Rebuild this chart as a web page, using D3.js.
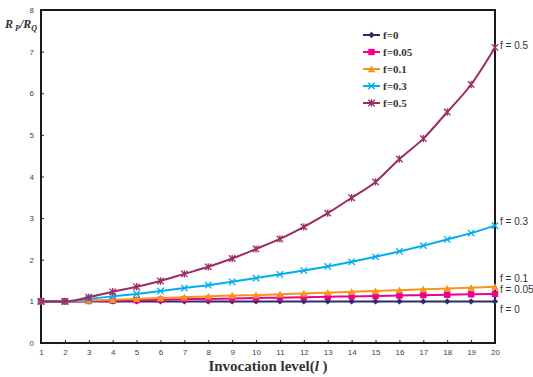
<!DOCTYPE html>
<html>
<head>
<meta charset="utf-8">
<script src="https://cdn.jsdelivr.net/npm/d3@7"></script>
<style>
  body { margin: 0; background: #fff; }
  svg { display: block; }
</style>
</head>
<body>
<svg id="chart"></svg>
<script>
// chart data
const levels = [1,2,3,4,5,6,7,8,9,10,11,12,13,14,15,16,17,18,19,20];
const yTicks = [0,1,2,3,4,5,6,7,8];
const f0   = [1,1,1,1,1,1,1,1,1,1,1,1,1,1,1,1,1,1,1,1];
const f005 = [1,1,1.01,1.02,1.03,1.04,1.05,1.06,1.07,1.08,1.09,1.10,1.11,1.12,1.13,1.14,1.15,1.16,1.17,1.18];
const f01  = [1,1,1.02,1.04,1.06,1.08,1.10,1.12,1.14,1.15,1.17,1.19,1.21,1.23,1.25,1.27,1.29,1.31,1.33,1.35];
const f03  = [1,1,1.06,1.12,1.18,1.25,1.32,1.39,1.47,1.56,1.65,1.74,1.84,1.95,2.07,2.20,2.34,2.49,2.64,2.82];
const f05  = [1,1,1.10,1.23,1.35,1.49,1.66,1.83,2.03,2.26,2.50,2.79,3.12,3.49,3.87,4.42,4.91,5.55,6.21,7.10];

const series = [
  { name: "f=0",    end: "f = 0",    values: f0,   color: "#2e2d6b", marker: "diamond" },
  { name: "f=0.05", end: "f = 0.05", values: f005, color: "#ec008c", marker: "square" },
  { name: "f=0.1",  end: "f = 0.1",  values: f01,  color: "#f7941d", marker: "triangle" },
  { name: "f=0.3",  end: "f = 0.3",  values: f03,  color: "#00aeef", marker: "cross" },
  { name: "f=0.5",  end: "f = 0.5",  values: f05,  color: "#9b2d63", marker: "star" }
];

// dimensions
const width = 533, height = 377;
const marginTop = 10, marginRight = 38, marginBottom = 34, marginLeft = 41;

const x = d3.scaleLinear()
    .domain([1, 20])
    .range([marginLeft, width - marginRight]);
const y = d3.scaleLinear()
    .domain([0, 8])
    .range([height - marginBottom, marginTop]);

const svg = d3.select("#chart")
    .attr("width", width)
    .attr("height", height);

// x-axis (ticks pointing inside)
const xAxis = svg.append("g")
    .attr("transform", `translate(0,${height - marginBottom})`)
    .call(d3.axisBottom(x).tickValues(levels).tickSizeInner(-3).tickSizeOuter(0).tickPadding(6));
xAxis.select(".domain").remove();
xAxis.selectAll("line").attr("stroke", "#222");
xAxis.selectAll("text").attr("font-family", "Liberation Sans, Arial, sans-serif").attr("font-size", 8).attr("fill", "#444");

// y-axis
const yAxis = svg.append("g")
    .attr("transform", `translate(${marginLeft},0)`)
    .call(d3.axisLeft(y).tickValues(yTicks).tickSizeInner(-3).tickSizeOuter(0).tickPadding(7));
yAxis.select(".domain").remove();
yAxis.selectAll("line").attr("stroke", "#222");
yAxis.selectAll("text").attr("font-family", "Liberation Sans, Arial, sans-serif").attr("font-size", 8).attr("fill", "#444");

// frame
svg.append("rect")
    .attr("x", marginLeft)
    .attr("y", marginTop)
    .attr("width", width - marginLeft - marginRight)
    .attr("height", height - marginTop - marginBottom)
    .attr("fill", "none")
    .attr("stroke", "#1a1a1a")
    .attr("stroke-width", 2);

function drawMarker(g, type, color) {
  const s = 3.2;
  if (type === "diamond") {
    g.append("path").attr("d", `M0,${-s}L${s},0L0,${s}L${-s},0Z`).attr("fill", color);
  } else if (type === "square") {
    g.append("rect").attr("x", -s).attr("y", -s).attr("width", 2*s).attr("height", 2*s).attr("fill", color);
  } else if (type === "triangle") {
    g.append("path").attr("d", `M0,${-s-0.5}L${s+0.5},${s}L${-s-0.5},${s}Z`).attr("fill", color);
  } else if (type === "cross") {
    g.append("path").attr("d", `M${-s},${-s}L${s},${s}M${-s},${s}L${s},${-s}`).attr("stroke", color).attr("stroke-width", 1.3);
  } else {
    g.append("path").attr("d", `M${-s},${-s}L${s},${s}M${-s},${s}L${s},${-s}M0,${-s-0.5}L0,${s+0.5}`).attr("stroke", color).attr("stroke-width", 1.3);
  }
}

const line = d3.line()
    .x((d, i) => x(levels[i]))
    .y(d => y(d))
    .curve(d3.curveMonotoneX);

// lines and markers
series.forEach(s => {
  svg.append("path")
      .datum(s.values)
      .attr("fill", "none")
      .attr("stroke", s.color)
      .attr("stroke-width", 2)
      .attr("d", line);
  svg.append("g")
      .selectAll("g")
      .data(s.values)
      .join("g")
      .attr("transform", (d, i) => `translate(${x(levels[i])},${y(d)})`)
      .each(function() { drawMarker(d3.select(this), s.marker, s.color); });
});

// end labels
const endOffsets = { "f = 0": 8, "f = 0.05": -4, "f = 0.1": -8, "f = 0.3": -4, "f = 0.5": -2 };
series.forEach(s => {
  svg.append("text")
      .attr("x", x(20) + 5)
      .attr("y", y(s.values[s.values.length - 1]) + endOffsets[s.end])
      .attr("dy", "0.35em")
      .attr("font-family", "Liberation Sans, Arial, sans-serif")
      .attr("font-size", 10)
      .attr("fill", "#333")
      .text(s.end);
});

// legend
const legend = svg.append("g").attr("transform", "translate(363,35)");
series.forEach((s, i) => {
  const row = legend.append("g").attr("transform", `translate(0,${i * 17})`);
  row.append("line").attr("x1", 0).attr("x2", 17).attr("stroke", s.color).attr("stroke-width", 2);
  drawMarker(row.append("g").attr("transform", "translate(8.5,0)"), s.marker, s.color);
  row.append("text")
      .attr("x", 20)
      .attr("dy", "0.35em")
      .attr("font-family", "Liberation Serif, Times New Roman, serif")
      .attr("font-weight", "bold")
      .attr("font-size", 11)
      .attr("fill", "#333")
      .text(s.name);
});

// y label
const yl = svg.append("text")
    .attr("x", 5)
    .attr("y", 28)
    .attr("font-family", "Liberation Serif, Times New Roman, serif")
    .attr("font-weight", "bold")
    .attr("font-style", "italic")
    .attr("font-size", 12)
    .attr("fill", "#333");
yl.append("tspan").text("R");
yl.append("tspan").attr("font-size", 8).attr("dy", 3).attr("dx", 2).text("P");
yl.append("tspan").attr("dy", -3).text("/R");
yl.append("tspan").attr("font-size", 8).attr("dy", 3).text("Q");

// x label
const xl = svg.append("text")
    .attr("x", 268)
    .attr("y", 371)
    .attr("text-anchor", "middle")
    .attr("font-family", "Liberation Serif, Times New Roman, serif")
    .attr("font-weight", "bold")
    .attr("font-size", 15)
    .attr("fill", "#333");
xl.append("tspan").text("Invocation level(");
xl.append("tspan").attr("font-style", "italic").text("l");
xl.append("tspan").text(" )");
</script>
</body>
</html>
